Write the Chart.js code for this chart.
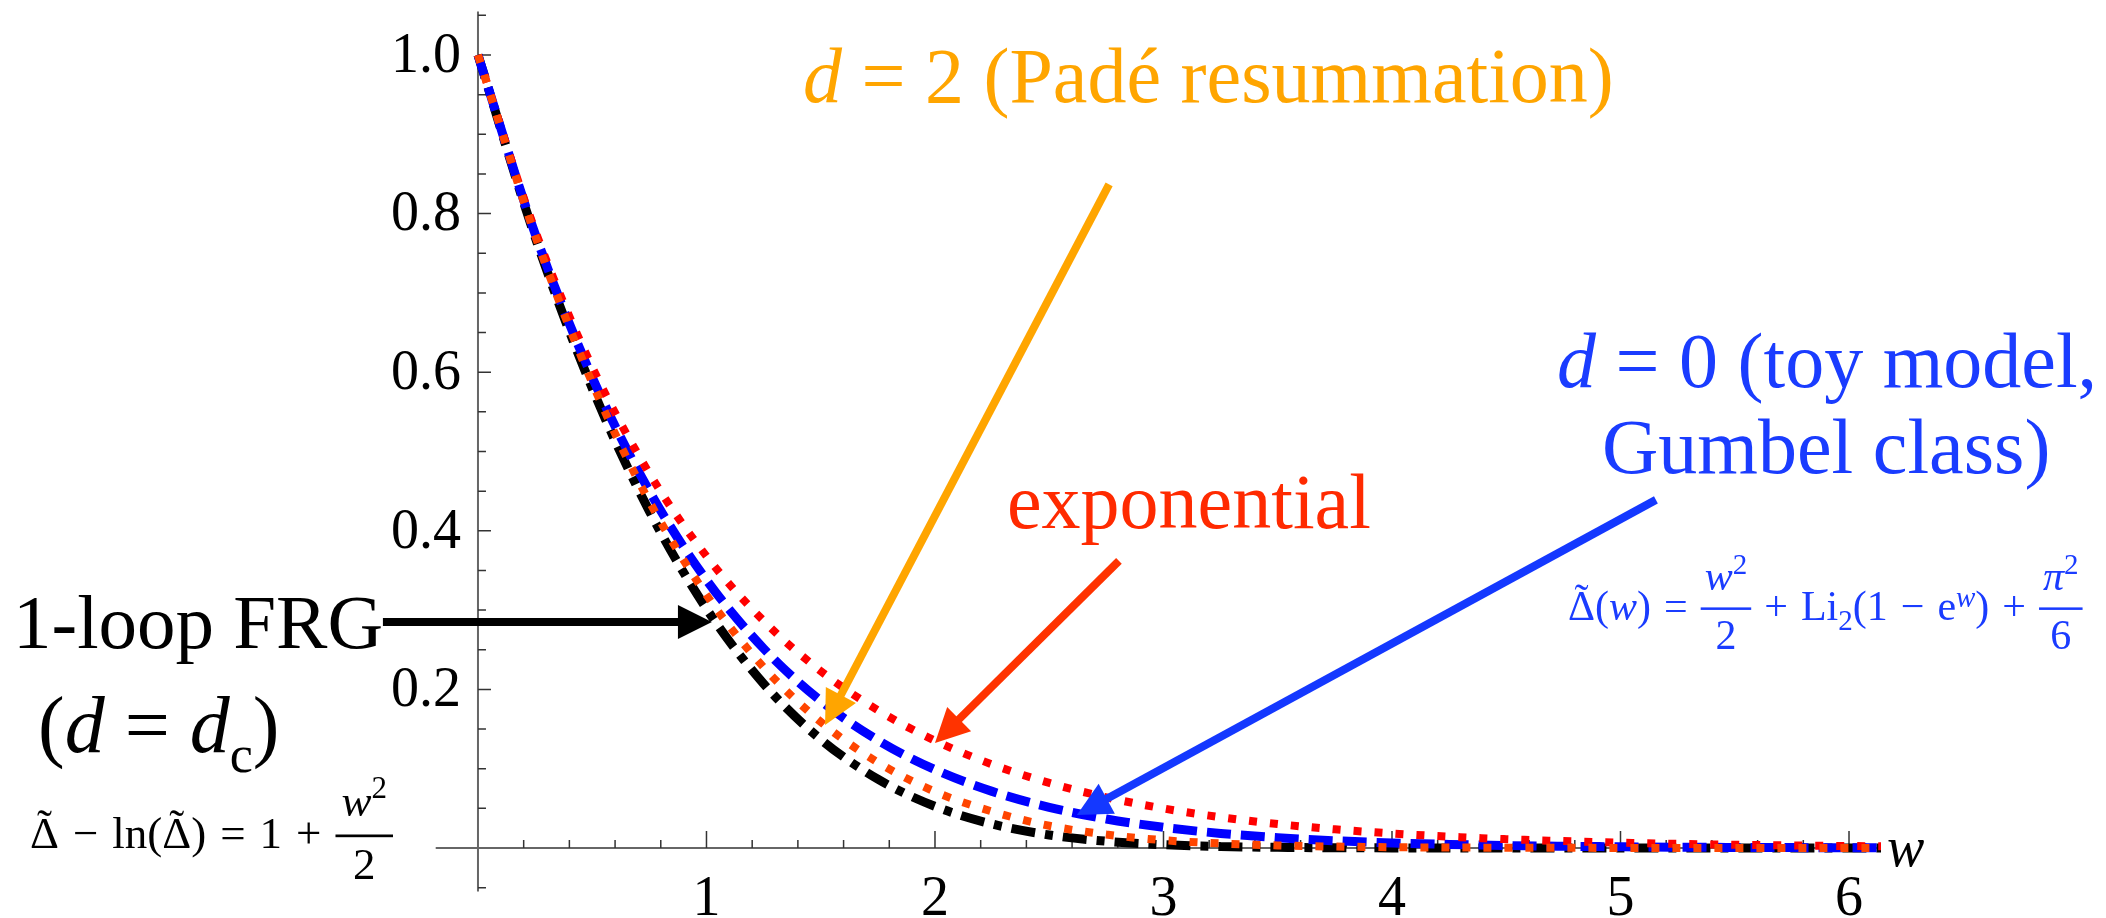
<!DOCTYPE html>
<html>
<head>
<meta charset="utf-8">
<script src="https://cdn.jsdelivr.net/npm/chart.js@4.4.1/dist/chart.umd.min.js"></script>
<style>
  html, body { margin: 0; padding: 0; background: #ffffff; }
  canvas { display: block; }
</style>
</head>
<body>
<canvas id="chart" width="2106" height="918"></canvas>
<script>
// Normalised disorder correlator Delta(w) for several dimensions.
// All curves share Delta(0)=1 and slope -1 at the origin.

const W = [0, 0.25, 0.5, 0.75, 1, 1.25, 1.5, 1.75, 2, 2.25, 2.5, 2.75, 3,
           3.25, 3.5, 3.75, 4, 4.25, 4.5, 4.75, 5, 5.25, 5.5, 5.75, 6, 6.14];

// d = 2, Padé resummation (orange-red dots)
const PADE_D2 = [1, 0.7725, 0.5865, 0.4370, 0.3190, 0.2280, 0.1590, 0.1080, 0.0710,
                 0.0460, 0.0280, 0.0170, 0.0098, 0.0057, 0.0032, 0.0018, 0.0010,
                 0.0006, 0.0003, 0.0002, 0.0001, 0.0001, 0, 0, 0, 0];

// exponential (red dots)
const EXPONENTIAL = [1, 0.7788, 0.6065, 0.4724, 0.3679, 0.2865, 0.2231, 0.1738, 0.1353,
                     0.1054, 0.0821, 0.0639, 0.0498, 0.0388, 0.0302, 0.0235, 0.0183,
                     0.0143, 0.0111, 0.0087, 0.0067, 0.0052, 0.0041, 0.0032, 0.0025, 0.0022];

// d = 0 toy model, Gumbel class (blue dashes)
const GUMBEL_D0 = [1, 0.7745, 0.5935, 0.4501, 0.3380, 0.2516, 0.1856, 0.1359, 0.0988,
                   0.0714, 0.0513, 0.0366, 0.0260, 0.0184, 0.0130, 0.0091, 0.0064,
                   0.0045, 0.0031, 0.0022, 0.0015, 0.0010, 0.0007, 0.0005, 0.0003, 0.0003];

// 1-loop FRG at d = d_c (black dash-dot)
const FRG_1LOOP = [1, 0.7705, 0.5797, 0.4248, 0.3017, 0.2072, 0.1370, 0.0868, 0.0525,
                   0.0302, 0.0164, 0.0085, 0.0041, 0.0019, 0.0008, 0.0003, 0.0001,
                   0, 0, 0, 0, 0, 0, 0, 0, 0];

const X_TICKS = [1, 2, 3, 4, 5, 6];
const Y_TICKS = [0.2, 0.4, 0.6, 0.8, 1.0];
const Y_TICK_LABELS = ['0.2', '0.4', '0.6', '0.8', '1.0'];

const SERIF = '"Liberation Serif", "Times New Roman", serif';
const font = (size, it) => (it ? 'italic ' : '') + size + 'px ' + SERIF;

const BLUE_TXT = '#1a3cff';
const ORANGE_TXT = '#ffa500';
const RED_TXT = '#ff2a00';

const pts = ys => W.map((w, i) => ({ x: w, y: ys[i] }));

function series(label, ys, color, width, dash) {
  return {
    label,
    data: pts(ys),
    showLine: true,
    borderColor: color,
    borderWidth: width,
    borderDash: dash,
    borderCapStyle: 'butt',
    pointRadius: 0,
    cubicInterpolationMode: 'monotone',
    fill: false
  };
}

// ---------- little text layout helper (runs, sub/superscripts, fractions) ----------
function layRuns(ctx, list, x, y, draw) {
  let cx = x;
  for (const r of list) {
    if (r.sp) { cx += r.sp; continue; }
    if (r.frac) { cx = layFrac(ctx, r, cx, y, draw); continue; }
    ctx.font = font(r.size, r.it);
    const wdt = ctx.measureText(r.t).width;
    if (draw) {
      ctx.fillText(r.t, cx, y + (r.dy || 0));
      if (r.tilde) {
        ctx.textAlign = 'center';
        ctx.fillText('\u02DC', cx + wdt / 2, y - r.size * 0.17);
        ctx.textAlign = 'left';
      }
    }
    cx += wdt;
  }
  return cx;
}

function layFrac(ctx, f, x, y, draw) {
  const nw = layRuns(ctx, f.num, 0, 0, false);
  const dw = layRuns(ctx, f.den, 0, 0, false);
  const width = Math.max(nw, dw) + 2 * f.pad;
  if (draw) {
    const barY = y - f.size * 0.27;
    ctx.fillRect(x, barY - f.size * 0.03, width, f.size * 0.06);
    layRuns(ctx, f.num, x + (width - nw) / 2, barY - f.size * 0.45, true);
    layRuns(ctx, f.den, x + (width - dw) / 2, barY + f.size * 0.95, true);
  }
  return x + width;
}

function drawText(ctx, list, x, y, color) {
  ctx.save();
  ctx.fillStyle = color;
  ctx.textAlign = 'left';
  ctx.textBaseline = 'alphabetic';
  layRuns(ctx, list, x, y, true);
  ctx.restore();
}

function arrow(ctx, x1, y1, x2, y2, color) {
  const ang = Math.atan2(y2 - y1, x2 - x1);
  const len = 34, half = 17;
  const bx = x2 - len * Math.cos(ang), by = y2 - len * Math.sin(ang);
  ctx.save();
  ctx.strokeStyle = color;
  ctx.fillStyle = color;
  ctx.lineWidth = 8;
  ctx.lineCap = 'butt';
  ctx.beginPath();
  ctx.moveTo(x1, y1);
  ctx.lineTo(bx + 2 * Math.cos(ang), by + 2 * Math.sin(ang));
  ctx.stroke();
  ctx.beginPath();
  ctx.moveTo(x2, y2);
  ctx.lineTo(bx + half * Math.sin(ang), by - half * Math.cos(ang));
  ctx.lineTo(bx - half * Math.sin(ang), by + half * Math.cos(ang));
  ctx.closePath();
  ctx.fill();
  ctx.restore();
}

// Mathematica-style crossing axes with inward ticks
const axesPlugin = {
  id: 'crossAxes',
  beforeDatasetsDraw(chart) {
    const { ctx, chartArea: a, scales: { x, y } } = chart;
    const x0 = x.getPixelForValue(0), y0 = y.getPixelForValue(0);
    ctx.save();
    ctx.strokeStyle = '#666666';
    ctx.lineWidth = 2;
    ctx.beginPath();
    ctx.moveTo(a.left, y0); ctx.lineTo(a.right, y0);
    ctx.moveTo(x0, a.top); ctx.lineTo(x0, a.bottom);
    ctx.stroke();

    ctx.strokeStyle = '#333333';
    ctx.lineWidth = 1.5;
    ctx.beginPath();
    for (let k = 1; k <= 30; k++) {
      const v = k * 0.2;
      const px = x.getPixelForValue(v);
      const major = k % 5 === 0;
      ctx.moveTo(px, y0); ctx.lineTo(px, y0 - (major ? 17 : 8));
    }
    for (let k = -1; k <= 21; k++) {
      if (k === 0) continue;
      const py = y.getPixelForValue(k * 0.05);
      const major = k % 4 === 0;
      ctx.moveTo(x0, py); ctx.lineTo(x0 + (major ? 13 : 8), py);
    }
    ctx.stroke();

    ctx.fillStyle = '#000000';
    ctx.font = font(56, false);
    ctx.textAlign = 'right';
    ctx.textBaseline = 'middle';
    Y_TICKS.forEach((v, i) => ctx.fillText(Y_TICK_LABELS[i], x0 - 17, y.getPixelForValue(v) + 2));
    ctx.textAlign = 'center';
    ctx.textBaseline = 'alphabetic';
    X_TICKS.forEach(v => ctx.fillText(String(v), x.getPixelForValue(v), 915));
    ctx.textAlign = 'left';
    ctx.font = font(56, true);
    ctx.fillText('w', a.right + 6, y0 + 18);
    ctx.restore();
  }
};

// arrows and labels on top of the curves
const labelsPlugin = {
  id: 'labels',
  afterDatasetsDraw(chart) {
    const { ctx, scales: { x, y } } = chart;
    const P = (w, v) => [x.getPixelForValue(w), y.getPixelForValue(v)];

    const a1 = P(-0.416, 0.285), t1 = P(1.024, 0.285);
    arrow(ctx, a1[0], a1[1], t1[0], t1[1], '#000000');
    const a2 = P(2.762, 0.837), t2 = P(1.519, 0.155);
    arrow(ctx, a2[0], a2[1], t2[0], t2[1], '#ffa500');
    const a3 = P(2.805, 0.362), t3 = P(2.0, 0.1324);
    arrow(ctx, a3[0], a3[1], t3[0], t3[1], '#ff3300');
    const a4 = P(5.155, 0.439), t4 = P(2.621, 0.0416);
    arrow(ctx, a4[0], a4[1], t4[0], t4[1], '#1438ff');

    drawText(ctx, [{ t: 'd', size: 78, it: true }, { t: ' = 2 (Padé resummation)', size: 78 }],
      803, 102, ORANGE_TXT);
    drawText(ctx, [{ t: 'd', size: 78, it: true }, { t: ' = 0 (toy model,', size: 78 }],
      1557, 387, BLUE_TXT);
    drawText(ctx, [{ t: 'Gumbel class)', size: 78 }], 1602, 473, BLUE_TXT);
    drawText(ctx, [{ t: 'exponential', size: 78 }], 1007, 528, RED_TXT);

    drawText(ctx, [{ t: '1-loop FRG', size: 77 }], 13, 648, '#000000');
    drawText(ctx, [
      { t: '(', size: 80 }, { t: 'd', size: 80, it: true }, { t: ' = ', size: 80 },
      { t: 'd', size: 80, it: true }, { t: 'c', size: 52, dy: 20 }, { t: ')', size: 80 }
    ], 38, 752, '#000000');

    const s1 = 45, g1 = 14;
    drawText(ctx, [
      { t: '\u0394', size: s1, tilde: true }, { sp: g1 }, { t: '\u2212', size: s1 }, { sp: g1 },
      { t: 'ln(', size: s1 }, { t: '\u0394', size: s1, tilde: true }, { t: ')', size: s1 }, { sp: g1 },
      { t: '=', size: s1 }, { sp: g1 }, { t: '1', size: s1 }, { sp: g1 }, { t: '+', size: s1 }, { sp: g1 },
      { frac: true, size: s1, pad: 6,
        num: [{ t: 'w', size: s1, it: true }, { t: '2', size: 31, dy: -18 }],
        den: [{ t: '2', size: s1 }] }
    ], 30, 848, '#000000');

    const s2 = 42, g2 = 13;
    drawText(ctx, [
      { t: '\u0394', size: s2, tilde: true }, { t: '(', size: s2 }, { t: 'w', size: s2, it: true },
      { t: ')', size: s2 }, { sp: g2 }, { t: '=', size: s2 }, { sp: g2 },
      { frac: true, size: s2, pad: 4,
        num: [{ t: 'w', size: s2, it: true }, { t: '2', size: 29, dy: -16 }],
        den: [{ t: '2', size: s2 }] },
      { sp: g2 }, { t: '+', size: s2 }, { sp: g2 },
      { t: 'Li', size: s2 }, { t: '2', size: 29, dy: 10 }, { t: '(1', size: s2 }, { sp: g2 },
      { t: '\u2212', size: s2 }, { sp: g2 }, { t: 'e', size: s2 }, { t: 'w', size: 29, it: true, dy: -13 },
      { t: ')', size: s2 }, { sp: g2 }, { t: '+', size: s2 }, { sp: g2 },
      { frac: true, size: s2, pad: 4,
        num: [{ t: '\u03C0', size: s2, it: true }, { t: '2', size: 29, dy: -16 }],
        den: [{ t: '6', size: s2 }] }
    ], 1568, 620, BLUE_TXT);
  }
};

new Chart(document.getElementById('chart'), {
  type: 'scatter',
  data: {
    datasets: [
      series('d = 2 (Padé)', PADE_D2, '#ff4500', 8, [8, 13]),
      series('exponential', EXPONENTIAL, '#ff0000', 8, [8, 13]),
      series('d = 0 (Gumbel)', GUMBEL_D0, '#0000ff', 9, [24, 10]),
      series('1-loop FRG', FRG_1LOOP, '#000000', 9, [24, 10, 8, 10])
    ]
  },
  options: {
    responsive: false,
    devicePixelRatio: 1,
    animation: false,
    layout: { padding: { left: 435.7, right: 225, top: 11.4, bottom: 26.4 } },
    plugins: { legend: { display: false }, tooltip: { enabled: false } },
    scales: {
      x: { type: 'linear', min: -0.185, max: 6.14, display: false },
      y: { type: 'linear', min: -0.055, max: 1.055, display: false }
    }
  },
  plugins: [axesPlugin, labelsPlugin]
});
</script>
</body>
</html>
